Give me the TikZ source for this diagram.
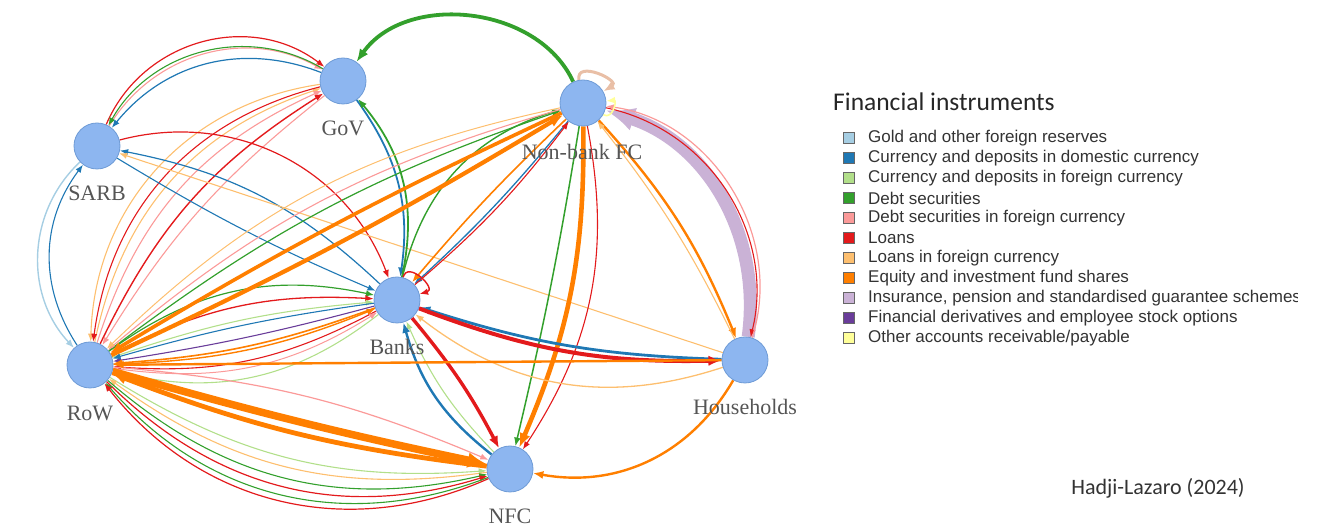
\documentclass[tikz,border=0pt]{standalone}
\usepackage{fontspec}
\setmainfont{Liberation Serif}
\newfontfamily\legendfont{Liberation Sans}
\newfontfamily\captionfont{Carlito}
\usetikzlibrary{arrows.meta,backgrounds}

% instrument palette
\definecolor{cGold}{HTML}{A6CEE3}
\definecolor{cCurDom}{HTML}{1F78B4}
\definecolor{cCurFor}{HTML}{B2DF8A}
\definecolor{cDebt}{HTML}{33A02C}
\definecolor{cDebtFor}{HTML}{FB9A99}
\definecolor{cLoan}{HTML}{E31A1C}
\definecolor{cLoanFor}{HTML}{FDBF6F}
\definecolor{cEquity}{HTML}{FF7F00}
\definecolor{cInsur}{HTML}{CAB2D6}
\definecolor{cDeriv}{HTML}{6A3D9A}
\definecolor{cOther}{HTML}{FFFF99}
\definecolor{cLoop}{HTML}{E9BFA6}
\definecolor{nodefill}{HTML}{8DB6F0}
\definecolor{nodeline}{HTML}{6E9BD6}
\definecolor{labelgray}{HTML}{555555}

\tikzset{
  sector/.style={circle, minimum size=46pt, inner sep=0pt, fill=nodefill,
    draw=nodeline, line width=0.8pt},
  sectorlabel/.style={text=labelgray, inner sep=0pt,
    font=\fontsize{22}{24}\selectfont},
  flow/.style={line width=#1 pt, -{Latex[length=6pt 1.8, width=4.5pt 1.5]}},
  gold/.style={flow=#1, draw=cGold},
  curdom/.style={flow=#1, draw=cCurDom},
  curfor/.style={flow=#1, draw=cCurFor},
  debt/.style={flow=#1, draw=cDebt},
  debtfor/.style={flow=#1, draw=cDebtFor},
  loan/.style={flow=#1, draw=cLoan},
  loanfor/.style={flow=#1, draw=cLoanFor},
  equity/.style={flow=#1, draw=cEquity},
  insur/.style={flow=#1, draw=cInsur},
  deriv/.style={flow=#1, draw=cDeriv},
  other/.style={flow=#1, draw=cOther},
  selfloop/.style={flow=#1, draw=cLoop},
  legkey/.style={rectangle, minimum size=11pt, inner sep=0pt,
    draw=black!60, line width=0.7pt},
  legtext/.style={anchor=west, inner sep=0pt, text=black!80,
    font=\legendfont\fontsize{17}{20}\selectfont},
}

\begin{document}
\begin{tikzpicture}[x=1pt, y=1pt]
\useasboundingbox (0,0) rectangle (1326,527);

% sectors
\node[sector] (gov)   at (343,446) {};
\node[sector] (sarb)  at (97,381)  {};
\node[sector] (nbfc)  at (583,424) {};
\node[sector] (banks) at (397,227) {};
\node[sector] (row)   at (90,162)  {};
\node[sector] (hh)    at (745,167) {};
\node[sector] (nfc)   at (510,58)  {};

% sector names
\node[sectorlabel] (gov-l)   at (343,399) {GoV};
\node[sectorlabel] (sarb-l)  at (97,334)  {SARB};
\node[sectorlabel] (nbfc-l)  at (582,375) {Non-bank FC};
\node[sectorlabel] (banks-l) at (397,180) {Banks};
\node[sectorlabel] (row-l)   at (90,114)  {RoW};
\node[sectorlabel] (hh-l)    at (745,120) {Households};
\node[sectorlabel] (nfc-l)   at (510,11)  {NFC};

\begin{scope}[on background layer]
% SARB -- GoV
\draw[loan=1.2]    (sarb) to[bend left=52, looseness=1.05] (gov);
\draw[debtfor=1.1] (sarb) to[bend left=44] (gov);
\draw[debt=1.1]    (gov)  to[bend right=46] (sarb);
\draw[curdom=1.2]  (gov)  to[bend right=36] (sarb);
% SARB -- RoW
\draw[gold=1.4]    (sarb) to[bend right=45] (row);
\draw[curdom=1.1]  (row)  to[bend left=35] (sarb);
% RoW -- GoV
\draw[loanfor=1.1] (row) to[bend left=30] (gov);
\draw[debtfor=1.1] (row) to[bend left=24] (gov);
\draw[loan=1.4]    (row) to[bend left=16] (gov);
\draw[loanfor=1.1] (gov) to[bend right=40] (row);
\draw[loan=1.1]    (gov) to[bend right=34] (row);
\draw[debtfor=1.1] (gov) to[bend right=10] (row);
% SARB -- Banks
\draw[loan=1.2]    (sarb)  to[bend left=42] (banks);
\draw[curdom=1.2]  (banks) to[bend right=16] (sarb);
\draw[curdom=1.1]  (sarb)  to[bend right=4] (banks);
\draw[loanfor=1.1] (hh) -- (sarb);
% GoV -- Banks
\draw[curdom=1.8]  (gov)   to[bend left=22] (banks);
\draw[debt=1.8]    (banks) to[bend right=26] (gov);
% Banks -- Non-bank FC
\draw[debt=1.4]    (banks) to[bend left=30] (nbfc);
\draw[curdom=1.3]  (nbfc)  to[bend left=4] (banks);
\draw[equity=1.6]  (nbfc)  to[bend right=3] (banks);
\draw[loan=1.1]    (banks) to[bend right=6] (nbfc);
% RoW -- Non-bank FC
\draw[debt=1.2]    (row)  to[bend left=9] (nbfc);
\draw[debtfor=1.1] (nbfc) to[bend right=12] (row);
\draw[loanfor=1]   (nbfc) to[bend right=16] (row);
% RoW -- Banks
\draw[debt=1.2]    (row)   to[bend left=24] (banks);
\draw[loan=1.3]    (row)   to[bend left=15] (banks);
\draw[curfor=1.1]  (row)   to[bend left=7] (banks);
\draw[deriv=1.1]   (banks) to[bend left=3] (row);
\draw[curdom=1.1]  (banks) to[bend right=4] (row);
\draw[equity=1.6]  (banks) to[bend left=8] (row);
\draw[equity=1.4]  (row)   to[bend right=10] (banks);
\draw[loan=1.1]    (banks) to[bend left=16] (row);
\draw[curfor=1.1]  (banks) to[bend left=26] (row);
\draw[debtfor=1]   (row)   to[bend right=20] (banks);
% RoW -- NFC
\draw[debtfor=1.2] (row) to[bend left=9] (nfc);
\draw[curfor=1.1]  (row) to[bend right=18] (nfc);
\draw[loanfor=1.1] (nfc) to[bend left=22] (row);
\draw[debt=1.1]    (row) to[bend right=27] (nfc);
\draw[loan=1.2]    (row) to[bend right=31] (nfc);
\draw[debt=1.1]    (nfc) to[bend left=35] (row);
\draw[loan=1.2]    (nfc) to[bend left=38] (row);
% Households -- Non-bank FC
\draw[insur=13]    (hh)   to[bend right=40] (nbfc);
\draw[loan=1.1]    (nbfc) to[bend left=46] (hh);
\draw[debtfor=1.2] (hh)   to[bend right=50] (nbfc);
\draw[equity=2.4]  (nbfc) to[bend left=10] (hh);
\draw[loanfor=1.1] (hh)   to[bend right=6] (nbfc);
% Banks -- NFC
\draw[curfor=1.1]  (nfc)   to[bend left=10] (banks);
\draw[curdom=2.4]  (nfc)   to[bend left=18] (banks);
\draw[loan=3.4]    (banks) to[bend left=6] (nfc);
% Non-bank FC -- NFC
\draw[debt=1.5]    (nbfc) to[bend left=2] (nfc);
\draw[loan=1.1]    (nbfc) to[bend left=22] (nfc);
\draw[equity=4.6]  (nbfc) to[bend left=12] (nfc);
% Banks -- Households
\draw[loanfor=1.3] (hh)    to[bend left=28] (banks);
\draw[curdom=2.8]  (hh)    to[bend left=8] (banks);
\draw[loan=4]      (banks) to[bend right=11] (hh);
% Households -- RoW, Households -- NFC
\draw[equity=2.4]  (hh) -- (row);
\draw[equity=2.4]  (hh) to[bend left=35] (nfc);
% large equity flows
\draw[equity=4.2]  (row)  to[bend right=3] (nbfc);
\draw[equity=3.6]  (nbfc) to[bend right=3] (row);
\draw[equity=4.8]  (nfc)  to[bend left=7] (row);
\draw[equity=7.5]  (row)  to[bend right=2] (nfc);
% Non-bank FC -> GoV
\draw[debt=3.8]    (nbfc) to[bend right=60] (gov);
% within-sector flows
\draw[selfloop=3]  (nbfc)  to[out=100, in=30, looseness=2, min distance=18pt] (nbfc);
\draw[other=1.6]   (nbfc)  to[out=-30, in=5, looseness=2, min distance=10pt] (nbfc);
\draw[loan=1.4]    (banks) to[out=75, in=15, looseness=2, min distance=16pt] (banks);
\end{scope}

% legend
\node[anchor=west, inner sep=0pt, text=black!85,
  font=\captionfont\fontsize{25.5}{28}\selectfont] (legtitle) at (833,425) {Financial instruments};
\begin{scope}
\clip (800,0) rectangle (1297,527);
\foreach \c/\t [count=\i from 0] in {
  cGold/{Gold and other foreign reserves},
  cCurDom/{Currency and deposits in domestic currency},
  cCurFor/{Currency and deposits in foreign currency},
  cDebt/{Debt securities},
  cDebtFor/{Debt securities in foreign currency},
  cLoan/{Loans},
  cLoanFor/{Loans in foreign currency},
  cEquity/{Equity and investment fund shares},
  cInsur/{Insurance, pension and standardised guarantee schemes},
  cDeriv/{Financial derivatives and employee stock options},
  cOther/{Other accounts receivable/payable}} {
  \node[legkey, fill=\c] (key\i) at (849,389-20*\i) {};
  \node[legtext] (item\i) at (868,389-20*\i) {\t};
}
\end{scope}

\node[inner sep=0pt, text=black!80,
  font=\captionfont\fontsize{22}{24}\selectfont] (credit) at (1158,39) {Hadji-Lazaro (2024)};
\end{tikzpicture}
\end{document}
